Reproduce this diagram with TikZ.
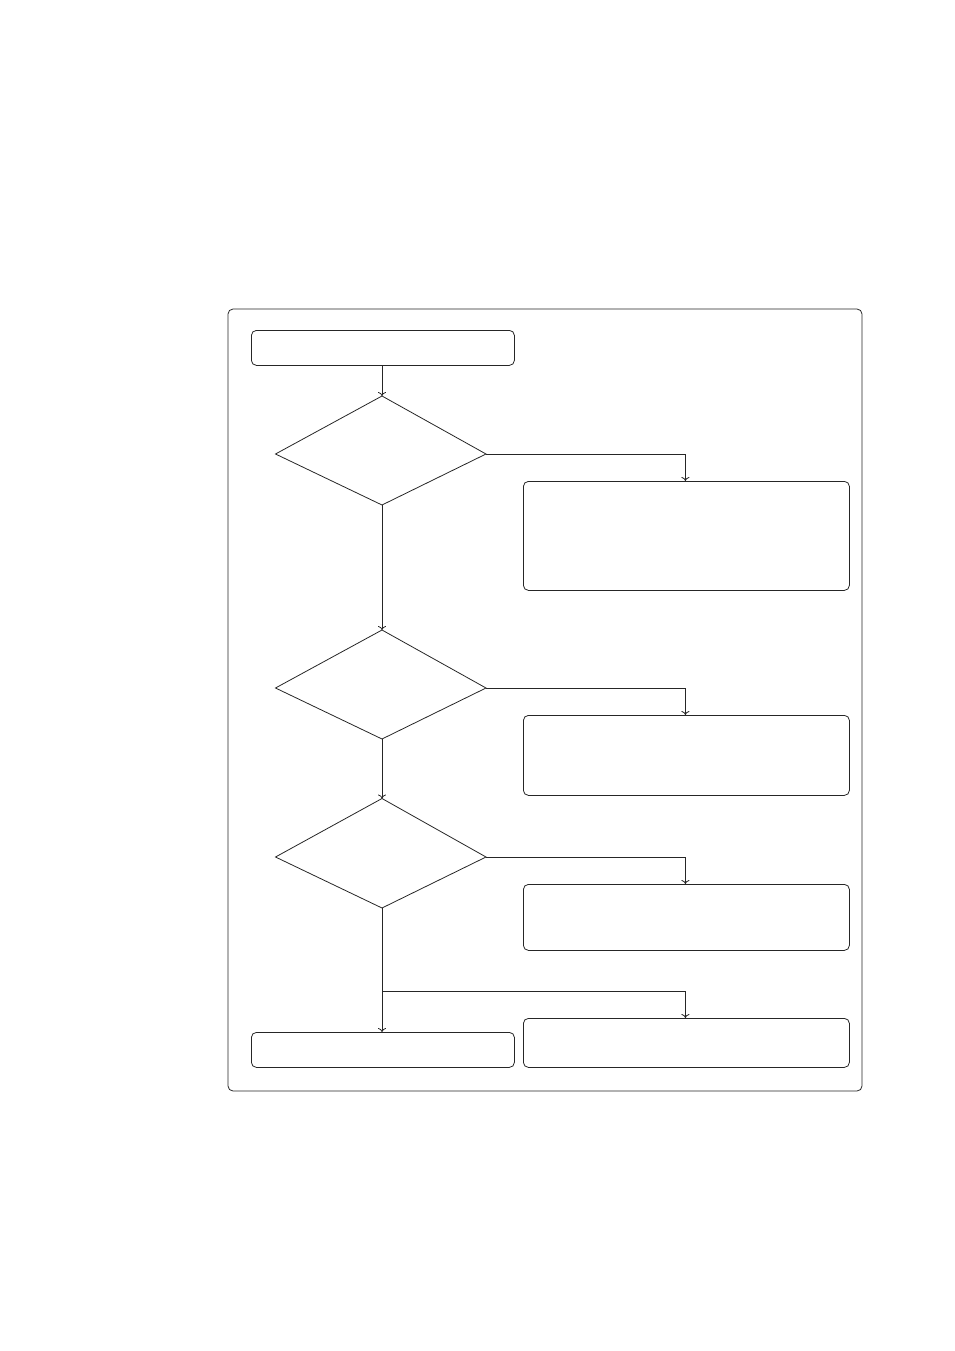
\documentclass[tikz,border=0pt]{standalone}
\usetikzlibrary{arrows.meta}
\begin{document}
\begin{tikzpicture}[x=1pt,y=-1pt,
  line width=0.8pt, color=black!85,
  rbox/.style={draw, rectangle, rounded corners=5pt, inner sep=0pt, anchor=north west},
  conn/.style={-{To[length=4pt,width=8pt]}, line width=0.8pt}]
\useasboundingbox (0,0) rectangle (954,1351);
\draw[rounded corners=5pt] (228,309) rectangle (862,1091);
\node[rbox, minimum width=263pt, minimum height=35pt] (b1) at (251,330) {};
\node[rbox, minimum width=326pt, minimum height=109pt] (b2) at (523,481) {};
\node[rbox, minimum width=326pt, minimum height=80pt] (b3) at (523,715) {};
\node[rbox, minimum width=326pt, minimum height=66pt] (b4) at (523,884) {};
\node[rbox, minimum width=263pt, minimum height=35pt] (b5) at (251,1032) {};
\node[rbox, minimum width=326pt, minimum height=49pt] (b6) at (523,1018) {};
% decision 1
\coordinate (d1t) at (382,396); \coordinate (d1l) at (275.5,454);
\coordinate (d1r) at (486,454); \coordinate (d1b) at (382,505);
\draw (d1t) -- (d1r) -- (d1b) -- (d1l) -- cycle;
% decision 2
\coordinate (d2t) at (382,630); \coordinate (d2l) at (275.5,688);
\coordinate (d2r) at (486,688); \coordinate (d2b) at (382,739);
\draw (d2t) -- (d2r) -- (d2b) -- (d2l) -- cycle;
% decision 3
\coordinate (d3t) at (382,798.5); \coordinate (d3l) at (275.5,857);
\coordinate (d3r) at (486,857); \coordinate (d3b) at (382,908);
\draw (d3t) -- (d3r) -- (d3b) -- (d3l) -- cycle;
\coordinate (j) at (382,991);
\draw[conn] (b1.south -| d1t) -- (d1t);
\draw[conn] (d1r) -| ([xshift=-1pt]b2.north);
\draw[conn] (d1b) -- (d2t);
\draw[conn] (d2r) -| ([xshift=-1pt]b3.north);
\draw[conn] (d2b) -- (d3t);
\draw[conn] (d3r) -| ([xshift=-1pt]b4.north);
\draw[conn] (d3b) -- (b5.north -| d3b);
\draw[conn] (j) -| ([xshift=-1pt]b6.north);
\end{tikzpicture}
\end{document}
